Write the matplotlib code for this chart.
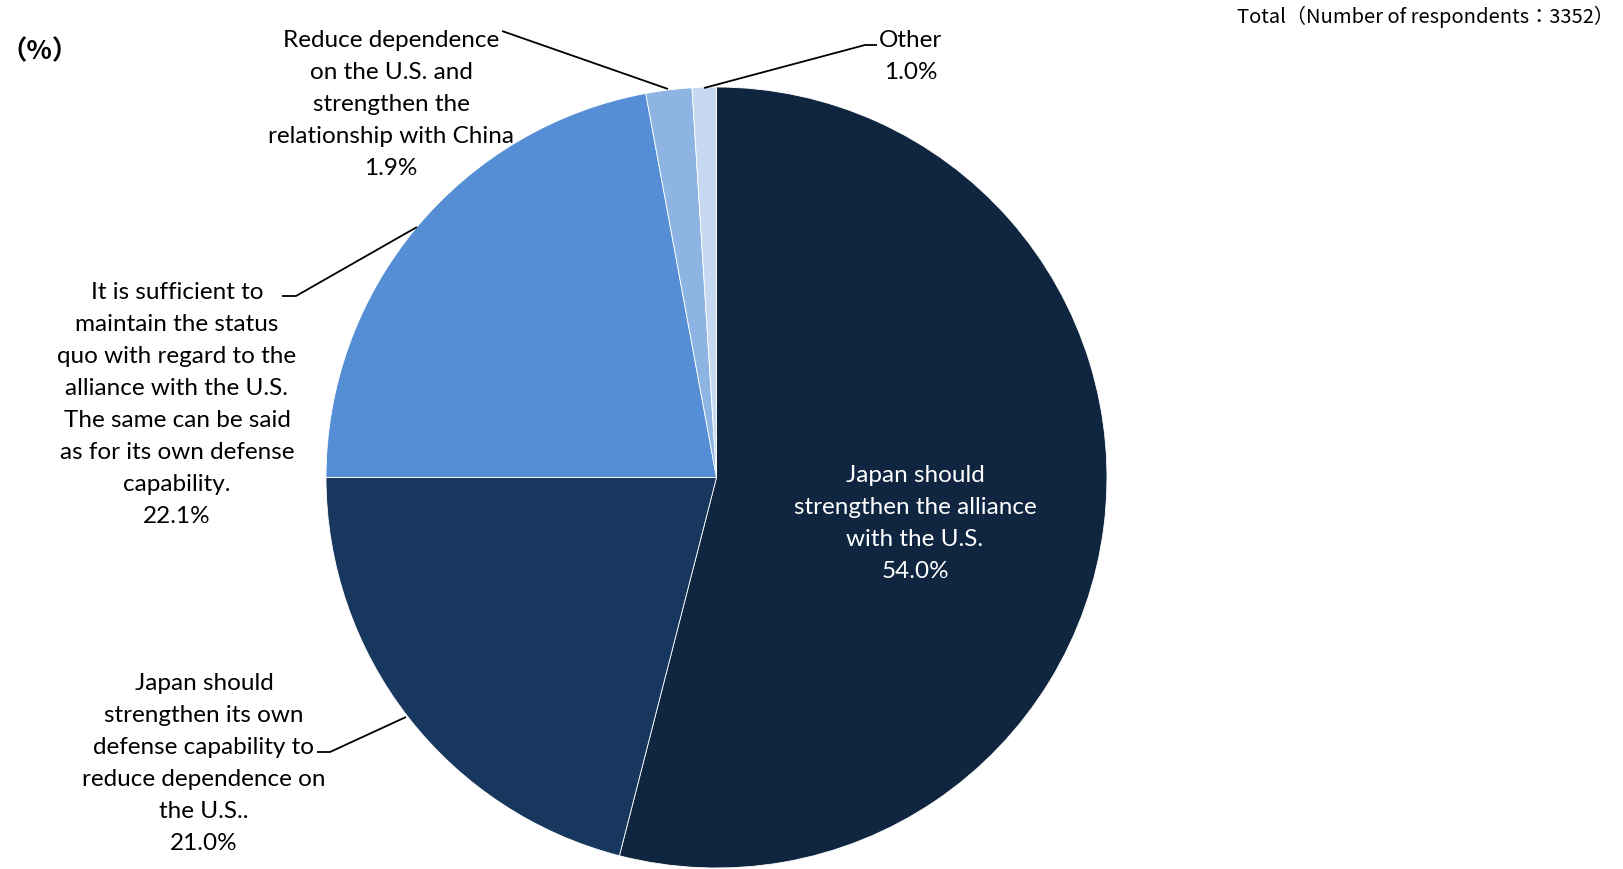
import matplotlib.pyplot as plt

labels = [
    "Japan should\nstrengthen the alliance\nwith the U.S.",
    "Japan should\nstrengthen its own\ndefense capability to\nreduce dependence on\nthe U.S..",
    "It is sufficient to\nmaintain the status\nquo with regard to the\nalliance with the U.S.\nThe same can be said\nas for its own defense\ncapability.",
    "Reduce dependence\non the U.S. and\nstrengthen the\nrelationship with China",
    "Other",
]
values = [54.0, 21.0, 22.1, 1.9, 1.0]
colors = ["#10253F", "#17375E", "#558ED5", "#8EB4E3", "#C6D9F1"]

W, H = 1624, 870
FONT = "Lato"
FS = 17.5

fig = plt.figure(figsize=(W / 100, H / 100), dpi=100)
ax = fig.add_axes([0, 0, 1, 1])

cx, cy, r = 716.5, H - 478.5, 390.5
ax.pie(values, colors=colors, startangle=90, counterclock=False,
       center=(cx, cy), radius=r, frame=True,
       wedgeprops=dict(edgecolor="white", linewidth=0.6))
ax.set_xlim(0, W)
ax.set_ylim(0, H)
ax.axis("off")


def label(i, x, y, color="black"):
    ax.text(x, H - y, f"{labels[i]}\n{values[i]:.1f}%", ha="center", va="top",
            fontsize=FS, family=FONT, color=color, linespacing=1.65)


def leader(xs, ys):
    ax.plot(xs, [H - y for y in ys], color="black", lw=1.3, solid_capstyle="butt")


label(0, 915, 465, color="white")
label(1, 204, 673)
label(2, 177, 282)
label(3, 391, 30)
label(4, 911, 30)

leader([502, 668], [32, 90])
leader([877, 865, 704], [46, 46, 89])
leader([282, 296, 417], [297, 297, 228])
leader([317, 330, 406], [753, 753, 718])

ax.text(40, H - 52, "（%）", ha="center", va="center", fontsize=19,
        family=["Noto Sans CJK JP", "DejaVu Sans"], fontweight="bold")
ax.text(1614, H - 17, "Total（Number of respondents：3352）", ha="right", va="center",
        fontsize=14.5, family=["Noto Sans CJK JP", "DejaVu Sans"])

fig.savefig("out.png", dpi=100)
